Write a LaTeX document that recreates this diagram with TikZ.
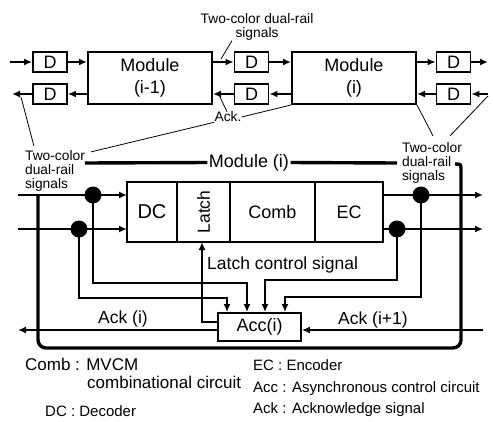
\documentclass[tikz,border=0pt]{standalone}
\usepackage{fontspec}
\setmainfont{Liberation Sans}
\usepackage{tikz}
\usetikzlibrary{arrows.meta, positioning, calc}
\newcommand{\fsz}[2]{\fontsize{#1}{#2}\selectfont}
\tikzset{
  dbox/.style={rectangle, draw, line width=1.8pt, minimum width=34pt,
    minimum height=19.5pt, inner sep=0pt, font=\fsz{18}{20}},
  modbox/.style={rectangle, draw, line width=2pt, minimum width=124pt,
    minimum height=52pt, align=center, inner sep=0pt, font=\fsz{18}{22}},
  cell/.style={rectangle, draw, line width=1.8pt, minimum height=60pt,
    inner sep=0pt, outer sep=0pt, font=\fsz{18}{20}},
  accbox/.style={rectangle, draw, line width=1.8pt, minimum width=83pt,
    minimum height=28pt, inner sep=0pt, font=\fsz{18}{20}},
  dot/.style={circle, fill=black, inner sep=0pt, minimum size=17pt},
  arrow/.style={-{Latex[length=8pt,width=7pt]}, line width=2pt},
  frame/.style={line width=3.4pt},
  pointer/.style={line width=0.8pt},
  note/.style={font=\fsz{13.8}{14}, align=left, inner sep=0pt},
  label/.style={font=\fsz{17.5}{20}, anchor=base west, inner sep=0pt},
  legend/.style={font=\fsz{17}{20}, anchor=base west, inner sep=0pt},
  small/.style={font=\fsz{15}{18}, anchor=base west, inner sep=0pt}
}
\begin{document}
\begin{tikzpicture}[x=1pt, y=-1pt]
  \useasboundingbox[fill=white] (0,0) rectangle (493,421);

  % pipeline of modules
  \node[dbox] (dA1) at (50,62) {D};
  \node[dbox] (dA2) at (50,94) {D};
  \node[modbox] (modA) at (150,78) {Module\\(i-1)};
  \node[dbox] (dB1) at (251.5,62) {D};
  \node[dbox] (dB2) at (251.5,94) {D};
  \node[modbox] (modB) at (354,78) {Module\\(i)};
  \node[dbox] (dC1) at (453.5,62) {D};
  \node[dbox] (dC2) at (453.5,94) {D};

  \coordinate (inA) at (10,62);
  \coordinate (outA) at (12,94);
  \coordinate (outC) at (488,62);
  \coordinate (inC) at (488,94);

  \draw[arrow] (inA) -- (dA1);
  \draw[arrow] (dA1) -- (dA1 -| modA.west);
  \draw[arrow] (dA2 -| modA.west) -- (dA2);
  \draw[arrow] (dA2) -- (outA);
  \draw[arrow] (dB1 -| modA.east) -- (dB1);
  \draw[arrow] (dB1) -- (dB1 -| modB.west);
  \draw[arrow] (dB2 -| modB.west) -- (dB2);
  \draw[arrow] (dB2) -- (dB2 -| modA.east);
  \draw[arrow] (dC1 -| modB.east) -- (dC1);
  \draw[arrow] (dC1) -- (outC);
  \draw[arrow] (inC) -- (dC2);
  \draw[arrow] (dC2) -- (dC2 -| modB.east);

  \node[note, align=center] (topsig) at (257,27) {Two-color dual-rail\\signals};
  \node[note] (ackl) at (228,117) {Ack.};
  \node[note] (lsig) at (55,170.5) {Two-color\\dual-rail\\signals};
  \node[note] (rsig) at (432,162.5) {Two-color\\dual-rail\\signals};

  \coordinate (tipB) at (221,59);
  \coordinate (tipAck) at (220,97);
  \coordinate (tipA) at (21,97);
  \draw[pointer] ($(topsig.south)+(-25,0)$) -- (tipB);
  \draw[pointer] ($(ackl.north)+(-1,0)$) -- (tipAck);
  \draw[pointer] (ackl.east) -- (modB.south west);
  \draw[pointer] ($(lsig.north east)+(6,2)$) -- (ackl.south west);
  \draw[pointer] ($(lsig.north west)+(9,-4)$) -- (tipA);
  \draw[pointer] ($(rsig.north)+(1,-6)$) -- (modB.south east);
  \draw[pointer] ($(rsig.north)+(18,-6)$) -- ($(inC)+(0,2)$);

  % inside module (i)
  \node[cell, minimum width=50pt, font=\fsz{20}{22}] (dc) at (152,212) {DC};
  \node[cell, minimum width=53pt, right=0pt of dc, font=\fsz{17.5}{20}] (latch) {\rotatebox{90}{Latch}};
  \node[cell, minimum width=85pt, right=0pt of latch] (comb) {Comb};
  \node[cell, minimum width=68pt, right=0pt of comb] (ec) {EC};
  \node[accbox] (acc) at (259.5,327) {Acc(i)};

  \coordinate (inT) at (18,195);
  \coordinate (inB) at (18,229);
  \coordinate (outT) at (483,195);
  \coordinate (outB) at (483,229);
  \coordinate (ackOut) at (18,330);
  \coordinate (ackIn) at (483,330);

  \draw[arrow] (inT) -- (inT -| dc.west);
  \draw[arrow] (inB) -- (inB -| dc.west);
  \draw[arrow] (outT -| ec.east) -- (outT);
  \draw[arrow] (outB -| ec.east) -- (outB);

  \node[dot] (dotTL) at (93,195) {};
  \node[dot] (dotBL) at (79,229) {};
  \node[dot] (dotTR) at (421,195) {};
  \node[dot] (dotBR) at (397,229) {};

  \draw[arrow] (dotBL.center) |- ($(acc.north)+(-32.5,-14)$) -- ($(acc.north)+(-32.5,0)$);
  \draw[arrow] (dotTL.center) |- ($(acc.north)+(-12.5,-29)$) -- ($(acc.north)+(-12.5,0)$);
  \draw[arrow] (dotBR.center) |- ($(acc.north)+(5.5,-32)$) -- ($(acc.north)+(5.5,0)$);
  \draw[arrow] (dotTR.center) |- ($(acc.north)+(25.5,-15)$) -- ($(acc.north)+(25.5,0)$);
  \draw[arrow] ($(acc.west)+(0,-5)$) -| ($(latch.south)+(-1.5,0)$);
  \draw[arrow] ($(acc.west)+(0,3)$) -- (ackOut);
  \draw[arrow] (ackIn) -- (ackIn -| acc.east);

  \node[label] (lcs) at (207,269) {Latch control signal};
  \node[label] (acki) at (98,323) {Ack (i)};
  \node[label] (ackn) at (338,324) {Ack (i+1)};

  % module (i) frame
  \node[font=\fsz{18}{20}, inner sep=1.5pt] (modlbl) at (249,162.5) {Module (i)};
  \coordinate (frameL) at (85,163);
  \coordinate (frameR) at (397,163);
  \draw[frame] (frameL) -- (modlbl.west);
  \draw[frame] (modlbl.east) -- (frameR);
  \draw[frame] (455,164) .. controls (461,164) .. (461,171)
    [rounded corners=8pt] -- (461,348) -- (38,348) -- (38,195);

  % legend
  \node[legend] (lgComb) at (25,370) {Comb : MVCM};
  \node[legend] (lgComb2) at (87,388) {combinational circuit};
  \node[small] (lgDC) at (45,416.5) {DC : Decoder};
  \node[small] (lgEC) at (253,370.5) {EC : Encoder};
  \node[small] (lgAcc) at (253,392) {Acc : Asynchronous control circuit};
  \node[small] (lgAck) at (253,413) {Ack : Acknowledge signal};
\end{tikzpicture}
\end{document}
